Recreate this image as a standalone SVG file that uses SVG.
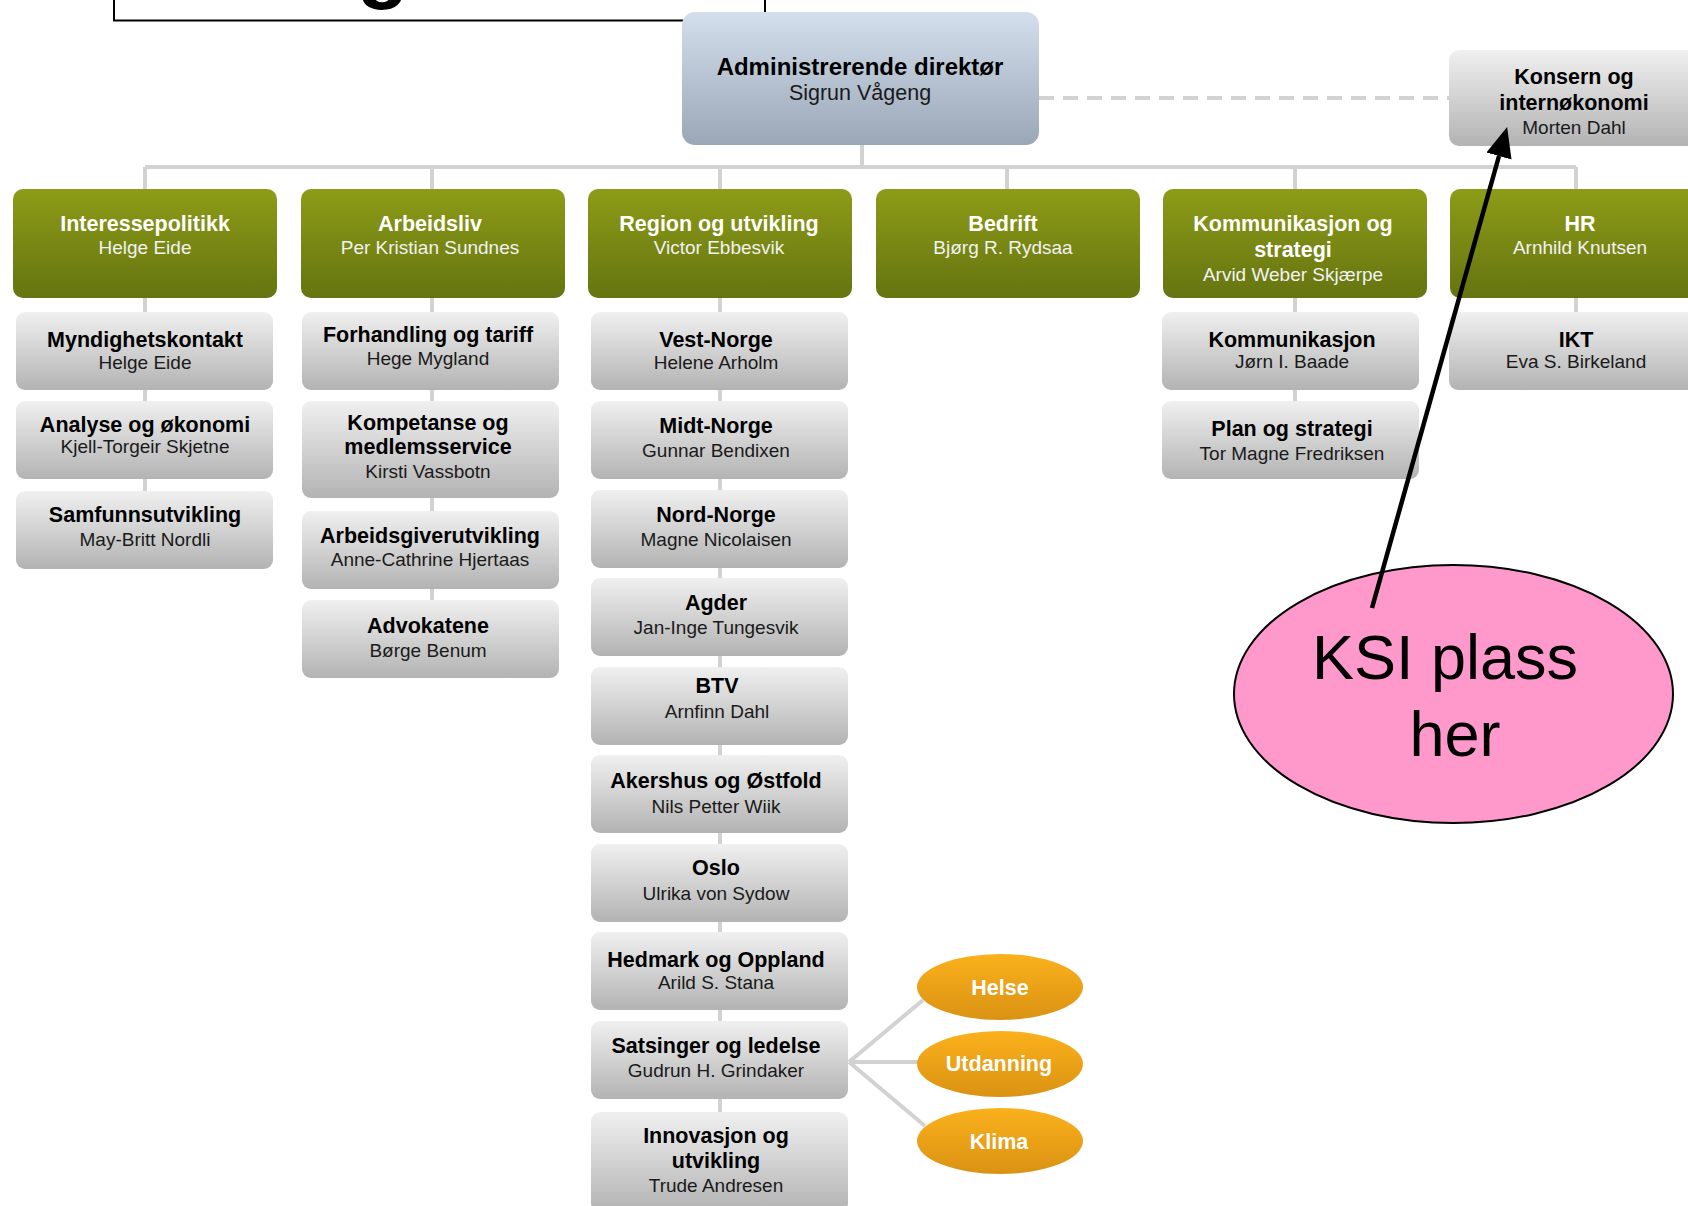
<svg xmlns="http://www.w3.org/2000/svg" width="1688" height="1206" viewBox="0 0 1688 1206">
<defs>
<linearGradient id="gg" x1="0" y1="0" x2="0" y2="1"><stop offset="0" stop-color="#8d9c17"/><stop offset="1" stop-color="#657410"/></linearGradient>
<linearGradient id="gs" x1="0" y1="0" x2="0" y2="1"><stop offset="0" stop-color="#f0f0f0"/><stop offset="1" stop-color="#b3b3b3"/></linearGradient>
<linearGradient id="gc" x1="0" y1="0" x2="0" y2="1"><stop offset="0" stop-color="#d4dfee"/><stop offset="1" stop-color="#9ba6b6"/></linearGradient>
<linearGradient id="go" x1="0" y1="0" x2="0" y2="1"><stop offset="0" stop-color="#fbb11c"/><stop offset="1" stop-color="#da9213"/></linearGradient>
<marker id="ah" viewBox="0 0 30 26" refX="0" refY="13" markerWidth="30" markerHeight="26" markerUnits="userSpaceOnUse" orient="auto"><path d="M0,0 L30,13 L0,26 z" fill="#000"/></marker>
<style>
text{font-family:"Liberation Sans",Arial,sans-serif;text-anchor:middle}
.green{fill:url(#gg)}
.gray{fill:url(#gs)}
.tw{font-size:21.5px;font-weight:bold;fill:#fff}
.nw{font-size:19px;fill:#f2f2f2}
.tb{font-size:21.5px;font-weight:bold;fill:#000}
.nb{font-size:19px;fill:#1a1a1a}
.line{stroke:#d2d2d2;stroke-width:4;fill:none}
.oval{fill:url(#go)}
</style>
</defs>
<rect width="1688" height="1206" fill="#fff"/>

<g id="title-box">
<rect x="114" y="-10" width="651" height="30.5" fill="#fff" stroke="#000" stroke-width="2"/>
<text x="383" y="-8" style="font-size:85px;font-weight:bold;fill:#000">g</text>
</g>

<g id="connectors">
<path class="line" d="M862,145 V167 M145,167 H1576"/>
<path class="line" d="M145,167 V530 M432,167 V640 M720,167 V1150 M1007,167 V189 M1295,167 V440 M1576,167 V350"/>
<path class="line" d="M1039,98 H1449" stroke-dasharray="15 9"/>
<path class="line" d="M849,1062 L923,1000 M849,1062 H918 M849,1062 L925,1126"/>
</g>

<g id="ceo"><rect x="682" y="12" width="357" height="133" rx="13" fill="url(#gc)"/>
<text x="860" y="75" style="font-size:24px;font-weight:bold;fill:#000">Administrerende direktør</text>
<text x="860" y="100" style="font-size:21.5px;fill:#1a1a1a">Sigrun Vågeng</text></g>

<g id="konsern"><rect x="1449" y="50" width="262" height="96" rx="10" class="gray"/>
<text x="1574" y="84" class="tb">Konsern og</text>
<text x="1574" y="110" class="tb">internøkonomi</text>
<text x="1574" y="134" class="nb">Morten Dahl</text></g>

<g id="interessepolitikk"><rect x="13" y="189" width="264" height="109" rx="10" class="green"/>
<text x="145" y="231" class="tw">Interessepolitikk</text><text x="145" y="254" class="nw">Helge Eide</text></g>
<g id="arbeidsliv"><rect x="301" y="189" width="264" height="109" rx="10" class="green"/>
<text x="430" y="231" class="tw">Arbeidsliv</text><text x="430" y="254" class="nw">Per Kristian Sundnes</text></g>
<g id="region"><rect x="588" y="189" width="264" height="109" rx="10" class="green"/>
<text x="719" y="231" class="tw">Region og utvikling</text><text x="719" y="254" class="nw">Victor Ebbesvik</text></g>
<g id="bedrift"><rect x="876" y="189" width="264" height="109" rx="10" class="green"/>
<text x="1003" y="231" class="tw">Bedrift</text><text x="1003" y="254" class="nw">Bjørg R. Rydsaa</text></g>
<g id="kommunikasjon-strategi"><rect x="1163" y="189" width="264" height="109" rx="10" class="green"/>
<text x="1293" y="231" class="tw">Kommunikasjon og</text><text x="1293" y="257" class="tw">strategi</text><text x="1293" y="281" class="nw">Arvid Weber Skjærpe</text></g>
<g id="hr"><rect x="1450" y="189" width="264" height="109" rx="10" class="green"/>
<text x="1580" y="231" class="tw">HR</text><text x="1580" y="254" class="nw">Arnhild Knutsen</text></g>

<g id="myndighetskontakt"><rect x="16" y="312" width="257" height="78" rx="9" class="gray"/>
<text x="145" y="347" class="tb">Myndighetskontakt</text><text x="145" y="369" class="nb">Helge Eide</text></g>
<g id="analyse"><rect x="16" y="401" width="257" height="78" rx="9" class="gray"/>
<text x="145" y="432" class="tb">Analyse og økonomi</text><text x="145" y="453" class="nb">Kjell-Torgeir Skjetne</text></g>
<g id="samfunnsutvikling"><rect x="16" y="491" width="257" height="78" rx="9" class="gray"/>
<text x="145" y="522" class="tb">Samfunnsutvikling</text><text x="145" y="546" class="nb">May-Britt Nordli</text></g>

<g id="forhandling"><rect x="302" y="312" width="257" height="78" rx="9" class="gray"/>
<text x="428" y="342" class="tb">Forhandling og tariff</text><text x="428" y="365" class="nb">Hege Mygland</text></g>
<g id="kompetanse"><rect x="302" y="401" width="257" height="97" rx="9" class="gray"/>
<text x="428" y="430" class="tb">Kompetanse og</text><text x="428" y="454" class="tb">medlemsservice</text><text x="428" y="478" class="nb">Kirsti Vassbotn</text></g>
<g id="arbeidsgiverutvikling"><rect x="302" y="511" width="257" height="78" rx="9" class="gray"/>
<text x="430" y="543" class="tb">Arbeidsgiverutvikling</text><text x="430" y="566" class="nb">Anne-Cathrine Hjertaas</text></g>
<g id="advokatene"><rect x="302" y="600" width="257" height="78" rx="9" class="gray"/>
<text x="428" y="633" class="tb">Advokatene</text><text x="428" y="657" class="nb">Børge Benum</text></g>

<g id="vest-norge"><rect x="591" y="312" width="257" height="78" rx="9" class="gray"/>
<text x="716" y="347" class="tb">Vest-Norge</text><text x="716" y="369" class="nb">Helene Arholm</text></g>
<g id="midt-norge"><rect x="591" y="401" width="257" height="78" rx="9" class="gray"/>
<text x="716" y="433" class="tb">Midt-Norge</text><text x="716" y="457" class="nb">Gunnar Bendixen</text></g>
<g id="nord-norge"><rect x="591" y="490" width="257" height="78" rx="9" class="gray"/>
<text x="716" y="522" class="tb">Nord-Norge</text><text x="716" y="546" class="nb">Magne Nicolaisen</text></g>
<g id="agder"><rect x="591" y="578" width="257" height="78" rx="9" class="gray"/>
<text x="716" y="610" class="tb">Agder</text><text x="716" y="634" class="nb">Jan-Inge Tungesvik</text></g>
<g id="btv"><rect x="591" y="667" width="257" height="78" rx="9" class="gray"/>
<text x="717" y="693" class="tb">BTV</text><text x="717" y="718" class="nb">Arnfinn Dahl</text></g>
<g id="akershus"><rect x="591" y="755" width="257" height="78" rx="9" class="gray"/>
<text x="716" y="788" class="tb">Akershus og Østfold</text><text x="716" y="813" class="nb">Nils Petter Wiik</text></g>
<g id="oslo"><rect x="591" y="844" width="257" height="78" rx="9" class="gray"/>
<text x="716" y="875" class="tb">Oslo</text><text x="716" y="900" class="nb">Ulrika von Sydow</text></g>
<g id="hedmark"><rect x="591" y="932" width="257" height="78" rx="9" class="gray"/>
<text x="716" y="967" class="tb">Hedmark og Oppland</text><text x="716" y="989" class="nb">Arild S. Stana</text></g>
<g id="satsinger"><rect x="591" y="1021" width="257" height="78" rx="9" class="gray"/>
<text x="716" y="1053" class="tb">Satsinger og ledelse</text><text x="716" y="1077" class="nb">Gudrun H. Grindaker</text></g>
<g id="innovasjon"><rect x="591" y="1112" width="257" height="100" rx="9" class="gray"/>
<text x="716" y="1143" class="tb">Innovasjon og</text><text x="716" y="1168" class="tb">utvikling</text><text x="716" y="1192" class="nb">Trude Andresen</text></g>

<g id="kommunikasjon"><rect x="1162" y="312" width="257" height="78" rx="9" class="gray"/>
<text x="1292" y="347" class="tb">Kommunikasjon</text><text x="1292" y="368" class="nb">Jørn I. Baade</text></g>
<g id="plan"><rect x="1162" y="401" width="257" height="78" rx="9" class="gray"/>
<text x="1292" y="436" class="tb">Plan og strategi</text><text x="1292" y="460" class="nb">Tor Magne Fredriksen</text></g>
<g id="ikt"><rect x="1449" y="312" width="262" height="78" rx="9" class="gray"/>
<text x="1576" y="347" class="tb">IKT</text><text x="1576" y="368" class="nb">Eva S. Birkeland</text></g>

<g id="helse"><ellipse cx="1000" cy="987" rx="83" ry="33" class="oval"/><text x="1000" y="995" class="tw">Helse</text></g>
<g id="utdanning"><ellipse cx="1000" cy="1064" rx="83" ry="33" class="oval"/><text x="999" y="1071" class="tw">Utdanning</text></g>
<g id="klima"><ellipse cx="1000" cy="1141" rx="83" ry="33" class="oval"/><text x="999" y="1149" class="tw">Klima</text></g>

<g id="ksi"><ellipse cx="1453.5" cy="694" rx="219.5" ry="129" fill="#ff99cc" stroke="#000" stroke-width="2"/>
<text x="1445" y="679" style="font-size:63px;fill:#000">KSI plass</text>
<text x="1455" y="756" style="font-size:63px;fill:#000">her</text></g>

<g id="annotation-arrow">
<path d="M1372,608 L1499,156" stroke="#000" stroke-width="4.5" fill="none" marker-end="url(#ah)"/>
</g>
</svg>
